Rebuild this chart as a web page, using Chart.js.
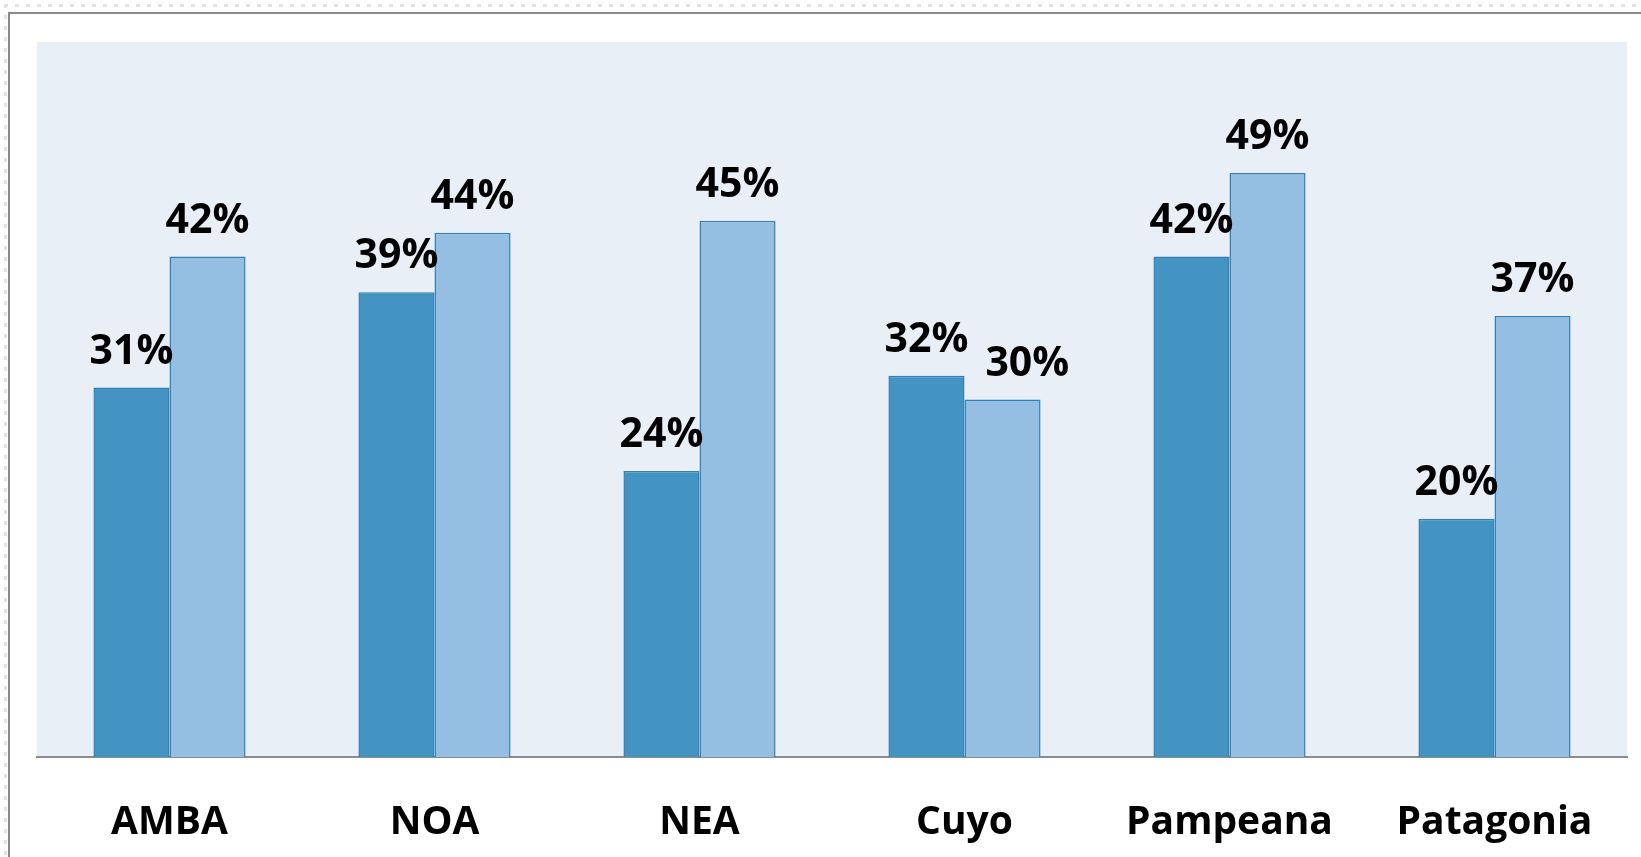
<!DOCTYPE html>
<html>
<head>
<meta charset="utf-8">
<script src="https://cdn.jsdelivr.net/npm/chart.js@4.4.0/dist/chart.umd.min.js"></script>
<style>
    html, body { margin: 0; padding: 0; background: #ffffff; }
    #wrap { position: relative; width: 1641px; height: 857px; overflow: hidden; }
    #dotsTop { position: absolute; left: 4px; top: 4px; width: 1641px; height: 3px;
        background: repeating-linear-gradient(90deg, #e2e2e2 0 4px, transparent 4px 11px); }
    #dotsLeft { position: absolute; left: 4px; top: 4px; width: 3px; height: 857px;
        background: repeating-linear-gradient(180deg, #e2e2e2 0 4px, transparent 4px 11px); }
    #frame { position: absolute; left: 8px; top: 12px; width: 1700px; height: 900px;
        border-top: 2px solid #8a8a8a; border-left: 2px solid #8a8a8a; }
    canvas { position: absolute; left: 0; top: 0; }
</style>
</head>
<body>
<div id="wrap">
    <div id="dotsTop"></div>
    <div id="dotsLeft"></div>
    <div id="frame"></div>
    <canvas id="chart" width="1641" height="857"></canvas>
</div>
<script>
// Regions and the two series (percent)
const regions = ['AMBA', 'NOA', 'NEA', 'Cuyo', 'Pampeana', 'Patagonia'];
const seriesA = [31, 39, 24, 32, 42, 20];
const seriesB = [42, 44, 45, 30, 49, 37];
const yMax = 60;

const labelFont = 'Open Sans';

// Light blue-gray plot background
const plotBackground = {
    id: 'plotBackground',
    beforeDraw(chart) {
        const { ctx, chartArea } = chart;
        ctx.save();
        ctx.fillStyle = '#e8eff7';
        ctx.fillRect(chartArea.left, chartArea.top, chartArea.right - chartArea.left, chartArea.bottom - chartArea.top);
        ctx.restore();
    }
};

// Percent labels above every bar; a label that would run into the
// previous one in the same group is nudged to the right
const valueLabels = {
    id: 'valueLabels',
    afterDatasetsDraw(chart) {
        const ctx = chart.ctx;
        const gap = 17;
        ctx.save();
        ctx.font = 'bold 41px "' + labelFont + '"';
        ctx.fillStyle = '#000000';
        ctx.textAlign = 'center';
        ctx.textBaseline = 'alphabetic';
        const prev = [];
        chart.data.datasets.forEach((ds, i) => {
            chart.getDatasetMeta(i).data.forEach((bar, j) => {
                const text = ds.data[j] + '%';
                const w = ctx.measureText(text).width;
                let x = bar.x;
                const y = bar.y - 24;
                const p = prev[j];
                if (p && Math.abs(p.y - y) < 40 && x - w / 2 < p.right + gap) {
                    x = p.right + gap + w / 2;
                }
                ctx.fillText(text, x, y);
                prev[j] = { right: x + w / 2, y: y };
            });
        });
        ctx.restore();
    }
};

const ctx = document.getElementById('chart').getContext('2d');
new Chart(ctx, {
    type: 'bar',
    data: {
        labels: regions,
        datasets: [
            {
                label: 'A',
                data: seriesA,
                backgroundColor: '#4393c3',
                borderColor: '#347fb3',
                borderWidth: 1.5
            },
            {
                label: 'B',
                data: seriesB,
                backgroundColor: '#95bfe2',
                borderColor: '#347fb3',
                borderWidth: 1.5
            }
        ]
    },
    options: {
        responsive: false,
        animation: false,
        layout: { padding: { left: 37, right: 14, top: 42, bottom: 0 } },
        datasets: {
            bar: { categoryPercentage: 0.574, barPercentage: 1.0 }
        },
        scales: {
            x: {
                grid: { display: false, drawTicks: false },
                border: { display: true, color: '#8c8c8c', width: 2 },
                ticks: {
                    color: '#000000',
                    font: { family: labelFont, weight: 'bold', size: 39 },
                    padding: 42
                },
                afterFit(scale) { scale.height = 100; }
            },
            y: {
                display: false,
                min: 0,
                max: yMax
            }
        },
        plugins: {
            legend: { display: false },
            tooltip: { enabled: false }
        }
    },
    plugins: [plotBackground, valueLabels]
});
</script>
</body>
</html>
